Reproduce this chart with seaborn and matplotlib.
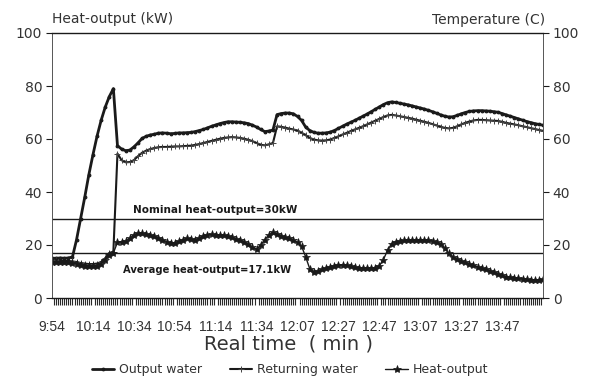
import matplotlib
matplotlib.use("Agg")
import matplotlib.pyplot as plt
import pandas as pd
import seaborn as sns
from matplotlib.ticker import MultipleLocator

# Sample index in minutes along the (compressed) real-time axis
minutes = list(range(0, 241, 2))

output_water = [
    15.0, 15.0, 15.1, 15.0, 15.1, 15.5, 22.0, 30.0, 38.0, 46.5,
    54.0, 61.0, 67.0, 72.0, 76.0, 79.0, 57.5, 56.2, 55.6, 55.8,
    57.0, 58.5, 60.2, 61.0, 61.5, 61.8, 62.2, 62.3, 62.2, 62.0,
    62.1, 62.3, 62.3, 62.4, 62.5, 62.8, 63.2, 63.6, 64.2, 64.8,
    65.3, 65.8, 66.2, 66.5, 66.5, 66.4, 66.3, 66.1, 65.8, 65.2,
    64.5, 63.6, 62.8, 63.0, 63.4, 69.2, 69.6, 69.8, 69.8, 69.5,
    68.5, 67.0, 64.5, 63.2, 62.5, 62.2, 62.2, 62.3, 62.6, 63.2,
    64.0, 64.8, 65.6, 66.3, 67.0, 67.8, 68.6, 69.4, 70.3, 71.2,
    72.1, 73.0, 73.7, 74.0, 73.8, 73.5, 73.2, 72.9, 72.5, 72.1,
    71.7, 71.3, 70.8, 70.3, 69.7, 69.1, 68.6, 68.3, 68.4, 68.9,
    69.5, 70.0, 70.4, 70.6, 70.7, 70.7, 70.6, 70.5, 70.3, 70.1,
    69.6, 69.1, 68.6, 68.1, 67.6, 67.1, 66.6, 66.2, 65.8, 65.5,
    65.2,
]

returning_water = [
    14.2, 14.2, 14.1, 14.0, 14.0, 13.8, 13.6, 13.2, 13.0, 12.8,
    12.8, 13.0, 13.6, 15.0, 17.0, 17.5, 54.5, 52.0, 51.2, 51.3,
    52.0, 53.5, 54.8, 55.6, 56.2, 56.6, 56.9, 57.0, 57.0, 57.1,
    57.2, 57.2, 57.3, 57.4, 57.5, 57.8, 58.1, 58.5, 58.9, 59.3,
    59.7, 60.1, 60.4, 60.6, 60.7, 60.6, 60.4, 60.1, 59.7, 59.2,
    58.5, 57.8, 57.6, 58.0, 58.5, 64.8, 64.6, 64.3, 63.9, 63.6,
    63.2, 62.4, 61.4, 60.4, 59.8, 59.5, 59.4, 59.5, 59.8, 60.4,
    61.0, 61.7, 62.3, 63.0, 63.6, 64.2, 64.8, 65.5, 66.2, 66.9,
    67.6, 68.3, 68.9, 69.1, 68.9, 68.6, 68.3, 68.0, 67.7, 67.3,
    66.9, 66.5, 66.1, 65.6, 65.1, 64.6, 64.2, 64.0, 64.2, 64.8,
    65.5, 66.1, 66.6, 67.0, 67.2, 67.2, 67.1, 67.0, 66.9, 66.8,
    66.5, 66.1, 65.8, 65.5, 65.2, 64.8, 64.5, 64.1, 63.8, 63.4,
    63.1,
]

heat_output = [
    13.6, 13.7, 13.5, 13.6, 13.4, 13.2, 13.0, 12.6, 12.2, 12.1,
    12.0, 12.2, 13.0, 14.5, 16.3, 17.0, 21.0, 21.3, 21.5, 22.5,
    23.8, 24.5, 24.5, 24.2, 23.8, 23.3, 22.8, 22.0, 21.3, 20.8,
    20.9, 21.4, 22.0, 22.5, 22.3, 22.0, 22.6, 23.5, 23.9, 24.0,
    23.9, 23.8, 23.7, 23.4, 22.9, 22.3, 21.8, 21.2, 20.2, 19.2,
    18.4, 20.0, 22.0, 23.8, 24.8, 24.2, 23.5, 23.0, 22.5, 21.8,
    21.0, 19.5, 15.5, 11.0, 10.0, 10.2, 10.8, 11.4, 11.8, 12.2,
    12.5, 12.5, 12.3, 12.0, 11.7, 11.5, 11.4, 11.3, 11.3, 11.5,
    12.2, 14.5, 18.0, 20.5, 21.3, 21.5, 21.7, 21.8, 21.9, 21.9,
    22.0, 22.0, 21.8, 21.5, 21.0, 20.4, 18.8, 16.8, 15.5, 14.8,
    14.0, 13.4, 12.9, 12.3, 11.8, 11.3, 10.8, 10.3, 9.8, 9.2,
    8.5, 8.0, 7.8, 7.6, 7.4, 7.2, 7.0, 6.9, 6.8, 6.8,
    7.0,
]

tick_positions = [0, 20, 40, 60, 80, 100, 120, 140, 160, 180, 200, 220, 240]
tick_labels = ["9:54", "10:14", "10:34", "10:54", "11:14", "11:34",
               "12:07", "12:27", "12:47", "13:07", "13:27", "13:47", ""]

nominal_output = 30
average_output = 17.1

sns.set_style("white")
plt.rcParams["font.family"] = ["DejaVu Sans"]

ink = "#1a1a1a"
grey = "#444444"
text_col = "#333333"

df = pd.DataFrame({
    "minute": minutes,
    "output": output_water,
    "returning": returning_water,
    "heat": heat_output,
})

fig = plt.figure(figsize=(5.92, 3.81), dpi=100)
fig.patch.set_facecolor("white")
ax = fig.add_axes([52 / 592, 1 - 298 / 381, 491 / 592, 265 / 381])

sns.lineplot(data=df, x="minute", y="output", ax=ax, color=ink, lw=2.0,
             marker=".", ms=4, mec=ink, label="Output water")
sns.lineplot(data=df, x="minute", y="returning", ax=ax, color=ink, lw=1.5,
             marker="+", ms=5, mew=0.7, mec=grey, label="Returning water")
sns.lineplot(data=df, x="minute", y="heat", ax=ax, color=ink, lw=1.0,
             marker="*", ms=6, mew=0.5, mec=ink, mfc=ink, label="Heat-output")

ax.axhline(nominal_output, color=ink, lw=1.0)
ax.axhline(average_output, color=ink, lw=1.0)
ax.text(80, nominal_output + 1.3, f"Nominal heat-output={nominal_output}kW",
        fontsize=7.5, fontweight="bold", color=ink, ha="center", va="bottom")
ax.text(76, 10.6, f"Average heat-output={average_output}kW",
        fontsize=7.2, fontweight="bold", color=ink, ha="center", va="center")

ax.set_xlim(0, 240)
ax.set_ylim(0, 100)
ax.set_xlabel("")
ax.set_ylabel("")

ax.set_xticks(tick_positions)
ax.set_xticklabels(tick_labels, fontfamily="Liberation Sans")
ax.xaxis.set_minor_locator(MultipleLocator(1))
ax.tick_params(axis="x", which="major", direction="in", length=4, width=0.8,
               labelsize=10, pad=16, colors=ink, labelcolor=text_col)
ax.tick_params(axis="x", which="minor", direction="out", length=5, width=0.8,
               color="#2a2a2a", bottom=True)

ax.set_yticks([0, 20, 40, 60, 80, 100])
ax.tick_params(axis="y", which="major", direction="out", length=4, width=0.8,
               labelsize=10, pad=3, colors=ink, labelcolor=text_col,
               left=True, right=True, labelleft=True, labelright=True)

for side in ("top", "bottom"):
    ax.spines[side].set_color(ink)
    ax.spines[side].set_linewidth(1.0)
for side in ("left", "right"):
    ax.spines[side].set_color("#555555")
    ax.spines[side].set_linewidth(0.7)
    ax.spines[side].set_linestyle((0, (2, 1)))

fig.text(52 / 592, 1 - 19 / 381, "Heat-output (kW)", fontsize=10,
         color=text_col, ha="left", va="center")
fig.text(545 / 592, 1 - 20 / 381, "Temperature (C)", fontsize=10,
         color=text_col, ha="right", va="center")
fig.text(288 / 592, 1 - 344 / 381, "Real time  ( min )", fontsize=14,
         color=text_col, ha="center", va="center")

handles, labels = ax.get_legend_handles_labels()
ax.get_legend().remove()
fig.legend(handles, labels, loc="center", bbox_to_anchor=(290 / 592, 1 - 370 / 381),
           ncol=3, frameon=False, fontsize=9, handlelength=1.8,
           columnspacing=2.2, handletextpad=0.4, labelcolor=text_col)

fig.savefig("out.png", dpi=100, facecolor="white")
